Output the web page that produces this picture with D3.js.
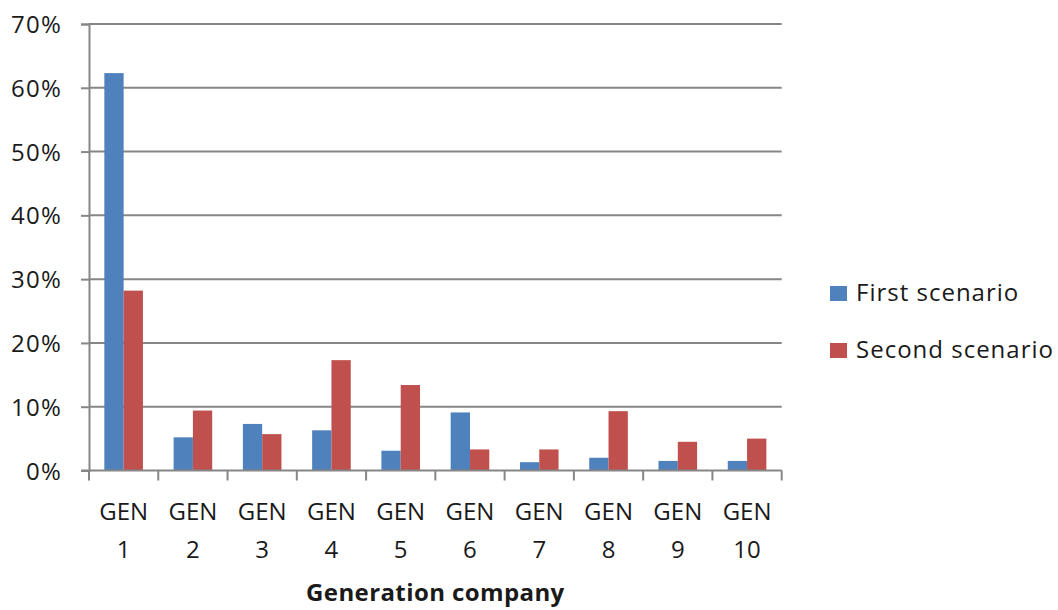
<!DOCTYPE html>
<html><head><meta charset="utf-8">
<script src="https://cdn.jsdelivr.net/npm/d3@7"></script>
<style>body{margin:0;background:#fff;}text{font-family:"Open Sans",Lato,sans-serif;fill:#1a1a1a;}</style>
</head><body><svg id="c" width="1058" height="610"></svg>
<script>
const categories = ["1","2","3","4","5","6","7","8","9","10"];
const firstScenario = [62.3, 5.2, 7.3, 6.3, 3.1, 9.1, 1.3, 2.0, 1.5, 1.5];
const secondScenario = [28.2, 9.4, 5.7, 17.3, 13.4, 3.3, 3.3, 9.3, 4.5, 5.0];
const seriesNames = ["First scenario", "Second scenario"];
const colors = ["#4F81BD", "#C0504D"];
const yTicks = [0,10,20,30,40,50,60,70];

(function(){
const svg = d3.select("#c");
const pl = 89, pr = 781.7, pt = 24, pb = 470.5;
const x = d3.scaleBand().domain(categories).range([pl, pr]).paddingInner(0).paddingOuter(0);
const y = d3.scaleLinear().domain([0,70]).range([pb, pt]);
const barW = 19.3;
const grid = "#868686";

svg.append("g").selectAll("line").data(yTicks.filter(d=>d>0)).join("line")
  .attr("x1", pl).attr("x2", pr).attr("y1", d=>y(d)).attr("y2", d=>y(d))
  .attr("stroke", grid).attr("stroke-width", 2);

const series = [firstScenario, secondScenario];
series.forEach((vals, si) => {
  svg.append("g").selectAll("rect").data(vals).join("rect")
    .attr("x", (d,i)=> x(categories[i]) + x.bandwidth()/2 - barW + si*barW)
    .attr("width", barW)
    .attr("y", d=>y(d)).attr("height", d=>pb - y(d))
    .attr("fill", colors[si]);
});

const ya = svg.append("g").attr("transform", `translate(${pl},0)`)
  .call(d3.axisLeft(y).tickValues(yTicks).tickSize(8).tickPadding(19).tickFormat(d=>d+"%"));
ya.select(".domain").attr("stroke", grid).attr("stroke-width", 2);
ya.selectAll(".tick line").attr("stroke", grid).attr("stroke-width", 2);
ya.selectAll(".tick text").attr("font-size", 24).attr("font-family","Open Sans").attr("letter-spacing", 1.2)
  .attr("fill","#1a1a1a").attr("dy","0.36em");

const xa = svg.append("g").attr("transform", `translate(0,${pb})`)
  .call(d3.axisBottom(x).tickSize(0).tickFormat(""));
xa.select(".domain").attr("stroke", grid).attr("stroke-width", 2).attr("d", `M${pl-8},0H${pr}`);
const bounds = categories.map(c=>x(c)).concat([pr]);
xa.selectAll(".bt").data(bounds).join("line").attr("class","bt")
  .attr("x1", d=>d).attr("x2", d=>d).attr("y1",0).attr("y2",10)
  .attr("stroke", grid).attr("stroke-width", 2);

const lab = svg.append("g").selectAll("text").data(categories).join("text")
  .attr("text-anchor","middle").attr("font-size",24);
lab.append("tspan").attr("x", d=>x(d)+x.bandwidth()/2).attr("y", 520).text("GEN");
lab.append("tspan").attr("x", d=>x(d)+x.bandwidth()/2).attr("y", 558).text(d=>d);

svg.append("text").attr("x", (pl+pr)/2).attr("y", 601).attr("text-anchor","middle")
  .attr("font-size", 24).attr("font-weight","bold").attr("letter-spacing", 0.4).text("Generation company");

const lg = svg.append("g");
seriesNames.forEach((n,i)=>{
  lg.append("rect").attr("x", 830).attr("y", 286 + i*57).attr("width", 17).attr("height", 15).attr("fill", colors[i]);
  lg.append("text").attr("x", 856).attr("y", 301 + i*57).attr("font-size", 24).attr("letter-spacing", 1).text(n);
});
})();
</script></body></html>
